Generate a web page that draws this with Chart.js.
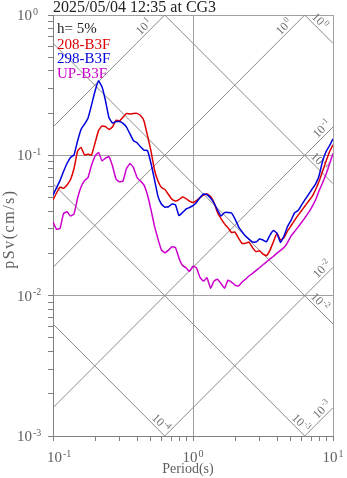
<!DOCTYPE html>
<html>
<head>
<meta charset="utf-8">
<script src="https://cdn.jsdelivr.net/npm/chart.js@4.4.1/dist/chart.umd.min.js"></script>
<style>
  html, body { margin: 0; padding: 0; background: #ffffff; }
  #wrap { width: 347px; height: 478px; }
</style>
</head>
<body>
<div id="wrap"><canvas id="spec" width="347" height="478"></canvas></div>
<script>
// Pseudo velocity response spectra, h = 5 %
const chartTitle = '2025/05/04 12:35 at CG3';
const dampingLabel = 'h= 5%';
const seriesNames = ['208-B3F', '298-B3F', 'UP-B3F'];

// natural periods (s)
const periods = [
  0.1, 0.1059, 0.1122, 0.1189, 0.1259, 0.1334, 0.1413, 0.1496, 0.1585, 0.1679,
  0.1778, 0.1884, 0.1995, 0.2113, 0.2239, 0.2371, 0.2512, 0.2661, 0.2818, 0.2985,
  0.3162, 0.335, 0.3548, 0.3758, 0.3981, 0.4217, 0.4467, 0.4732, 0.5012, 0.5309,
  0.5623, 0.5957, 0.631, 0.6683, 0.7079, 0.7499, 0.7943, 0.8414, 0.8913, 0.9441,
  1.0, 1.059, 1.122, 1.189, 1.259, 1.334, 1.413, 1.496, 1.585, 1.679,
  1.778, 1.884, 1.995, 2.113, 2.239, 2.371, 2.512, 2.661, 2.818, 2.985,
  3.162, 3.35, 3.548, 3.758, 3.981, 4.217, 4.467, 4.732, 5.012, 5.309,
  5.623, 5.957, 6.31, 6.683, 7.079, 7.499, 7.943, 8.414, 8.913, 9.441, 10
];

// pSv (cm/s)
const sv208 = [
  0.0480, 0.0539, 0.0594, 0.0582, 0.0614, 0.0672, 0.0805, 0.107, 0.114, 0.1005,
  0.102, 0.1005, 0.122, 0.150, 0.162, 0.160, 0.153, 0.159, 0.178, 0.176,
  0.187, 0.199, 0.197, 0.199, 0.199, 0.192, 0.176, 0.138, 0.107, 0.0786,
  0.0656, 0.0589, 0.0571, 0.0526, 0.0486, 0.0472, 0.0484, 0.0504, 0.0492, 0.0472,
  0.0461, 0.0476, 0.0500, 0.0521, 0.0530, 0.0510, 0.0461, 0.0391, 0.0354, 0.0325,
  0.0305, 0.0282, 0.0284, 0.0257, 0.0236, 0.0236, 0.0241, 0.0220, 0.0206, 0.0209,
  0.0198, 0.0193, 0.0211, 0.0243, 0.0278, 0.0249, 0.0258, 0.0289, 0.0315, 0.0344,
  0.0373, 0.0403, 0.0435, 0.0471, 0.0507, 0.0569, 0.0651, 0.0766, 0.0906, 0.106, 0.119
];
const sv298 = [
  0.0521, 0.0587, 0.0660, 0.0766, 0.0874, 0.0966, 0.1008, 0.126, 0.153, 0.167,
  0.184, 0.228, 0.286, 0.339, 0.308, 0.245, 0.185, 0.170, 0.174, 0.174,
  0.169, 0.159, 0.142, 0.127, 0.123, 0.115, 0.109, 0.108, 0.0876, 0.0671,
  0.0510, 0.0448, 0.0427, 0.0430, 0.0450, 0.0444, 0.0372, 0.0391, 0.0414, 0.0425,
  0.0438, 0.0462, 0.0499, 0.0530, 0.0526, 0.0496, 0.0457, 0.0407, 0.0369, 0.0391,
  0.0392, 0.0388, 0.0352, 0.0311, 0.0286, 0.0266, 0.0253, 0.0241, 0.0241, 0.0253,
  0.0249, 0.0242, 0.0270, 0.0291, 0.0278, 0.0239, 0.0266, 0.0311, 0.0344, 0.0388,
  0.0404, 0.0442, 0.0483, 0.0526, 0.0573, 0.0624, 0.0712, 0.0903, 0.106, 0.117, 0.131
];
const svUP = [
  0.0336, 0.0298, 0.0301, 0.0385, 0.0396, 0.0369, 0.0382, 0.0492, 0.0594, 0.0660,
  0.0695, 0.0849, 0.0985, 0.105, 0.0914, 0.0954, 0.0976, 0.0839, 0.0678, 0.0647,
  0.0656, 0.0805, 0.0874, 0.0818, 0.0695, 0.0656, 0.0614, 0.0521, 0.0409, 0.0313,
  0.0253, 0.0211, 0.0202, 0.0211, 0.0223, 0.0220, 0.0185, 0.0164, 0.0158, 0.0149,
  0.0162, 0.0158, 0.0135, 0.0127, 0.0134, 0.0113, 0.0127, 0.0131, 0.0122, 0.0113,
  0.0129, 0.0125, 0.0119, 0.0117, 0.0125, 0.0131, 0.0138, 0.0144, 0.0151, 0.0158,
  0.0166, 0.0174, 0.0183, 0.0191, 0.0201, 0.0210, 0.0220, 0.0239, 0.0266, 0.0286,
  0.0308, 0.0332, 0.0359, 0.0391, 0.0430, 0.0480, 0.0557, 0.0635, 0.0732, 0.0867, 0.103
];

// tripartite guide levels
const accelLevels = [1e-3, 1e-2, 1e-1, 1, 10];   // pSa (cm/s^2)
const dispLevels = [1e-4, 1e-3, 1e-2, 1e-1, 1];  // Sd (cm)

// decade tick labels
const xTickExps = [-1, 0, 1];
const yTickExps = [-3, -2, -1, 0];

const SERIF = "'Liberation Serif', 'Times New Roman', serif";
const TWO_PI = 2 * Math.PI;
const colors = ['#dd0000', '#0000dd', '#cc00cc'];

function isDecade(v) {
  const l = Math.log10(v);
  return Math.abs(l - Math.round(l)) < 1e-6;
}
function keepIntegerSignificands(axis) {
  axis.ticks = axis.ticks.filter(t => {
    const e = Math.floor(Math.log10(t.value) + 1e-9);
    const m = t.value / Math.pow(10, e);
    return Math.abs(m - Math.round(m)) < 1e-6;
  });
}

// "10" with a raised exponent
function powerParts(ctx, exp, baseFont, supFont) {
  ctx.font = baseFont;
  const wb = ctx.measureText('10').width;
  ctx.font = supFont;
  const ws = ctx.measureText(String(exp)).width;
  return { wb, ws, w: wb + ws + 1 };
}
function drawPower(ctx, exp, x, baseline, baseFont, supFont, rise) {
  const p = powerParts(ctx, exp, baseFont, supFont);
  ctx.font = baseFont;
  ctx.fillText('10', x, baseline);
  ctx.font = supFont;
  ctx.fillText(String(exp), x + p.wb + 1, baseline - rise);
  return p.w;
}

const tripartite = {
  id: 'tripartite',
  beforeDatasetsDraw(chart) {
    const { ctx, chartArea: a, scales: { x, y } } = chart;
    const T0 = x.min, T1 = x.max;
    ctx.save();
    ctx.beginPath();
    ctx.rect(a.left, a.top, a.right - a.left, a.bottom - a.top);
    ctx.clip();
    ctx.strokeStyle = '#8a8a8a';
    ctx.lineWidth = 1;
    const seg = (f) => {
      ctx.beginPath();
      ctx.moveTo(x.getPixelForValue(T0), y.getPixelForValue(f(T0)));
      ctx.lineTo(x.getPixelForValue(T1), y.getPixelForValue(f(T1)));
      ctx.stroke();
    };
    accelLevels.forEach(sa => seg(t => sa * t / TWO_PI));
    dispLevels.forEach(sd => seg(t => TWO_PI * sd / t));
    ctx.restore();

    // level labels near where each guide leaves the frame
    ctx.save();
    ctx.fillStyle = '#707070';
    const baseFont = '12px ' + SERIF, supFont = '8.5px ' + SERIF;
    const r = Math.SQRT1_2, perp = 6.8;
    const put = (exp, ex, ey, back, normal, along, angle) => {
      const cx = ex + along * back[0] + perp * normal[0];
      const cy = ey + along * back[1] + perp * normal[1];
      ctx.save();
      ctx.translate(cx, cy);
      ctx.rotate(angle);
      const p = powerParts(ctx, exp, baseFont, supFont);
      drawPower(ctx, exp, -p.w / 2, 4, baseFont, supFont, 4.5);
      ctx.restore();
    };
    accelLevels.forEach(sa => {
      let T = T1, sv = sa * T1 / TWO_PI, along = 9;
      if (sv > y.max) { sv = y.max; T = y.max * TWO_PI / sa; along = 23; }
      put(Math.round(Math.log10(sa)), x.getPixelForValue(T), y.getPixelForValue(sv),
          [-r, r], [-r, -r], along, -Math.PI / 4);
    });
    dispLevels.forEach(sd => {
      let T = T1, sv = TWO_PI * sd / T1, along = 25;
      if (sv < y.min) { sv = y.min; T = TWO_PI * sd / y.min; along = 12; }
      put(Math.round(Math.log10(sd)), x.getPixelForValue(T), y.getPixelForValue(sv),
          [-r, -r], [r, -r], along, Math.PI / 4);
    });
    ctx.restore();
  }
};

const annotations = {
  id: 'annotations',
  afterDraw(chart) {
    const { ctx, chartArea: a, scales: { x, y } } = chart;
    ctx.save();
    ctx.textBaseline = 'alphabetic';
    ctx.textAlign = 'left';

    // decade labels
    const baseFont = '15px ' + SERIF, supFont = '10px ' + SERIF;
    ctx.fillStyle = '#606060';
    yTickExps.forEach(e => {
      const py = y.getPixelForValue(Math.pow(10, e));
      drawPower(ctx, e, 17, py + 5, baseFont, supFont, 5.5);
    });
    xTickExps.forEach(e => {
      const px = x.getPixelForValue(Math.pow(10, e));
      const p = powerParts(ctx, e, baseFont, supFont);
      const left = Math.max(47, px - p.w / 2);
      drawPower(ctx, e, left, a.bottom + 26, baseFont, supFont, 5.5);
    });

    // axis titles
    ctx.font = '14px ' + SERIF;
    ctx.textAlign = 'center';
    ctx.fillText('Period(s)', 188, 473);
    ctx.save();
    ctx.translate(13.5, 229);
    ctx.rotate(-Math.PI / 2);
    ctx.font = '16px ' + SERIF;
    ctx.letterSpacing = '1.5px';
    ctx.fillText('pSv(cm/s)', 0, 0);
    ctx.restore();

    // title
    ctx.textAlign = 'left';
    ctx.fillStyle = '#222222';
    ctx.font = '16px ' + SERIF;
    ctx.fillText(chartTitle, 53, 11.5);

    // damping and component list
    ctx.font = '15px ' + SERIF;
    ctx.fillText(dampingLabel, 57, 33);
    chart.data.datasets.forEach((ds, i) => {
      ctx.fillStyle = ds.borderColor;
      ctx.fillText(ds.label, 57, 48.5 + i * 14.5);
    });
    ctx.restore();
  }
};

const asPoints = vals => periods.map((t, i) => ({ x: t, y: vals[i] }));

new Chart(document.getElementById('spec'), {
  type: 'line',
  data: {
    datasets: [
      { label: seriesNames[0], data: asPoints(sv208), borderColor: colors[0], order: 2 },
      { label: seriesNames[1], data: asPoints(sv298), borderColor: colors[1], order: 1 },
      { label: seriesNames[2], data: asPoints(svUP), borderColor: colors[2], order: 3 }
    ].map(d => Object.assign(d, { borderWidth: 1.5, pointRadius: 0, tension: 0.1, fill: false }))
  },
  options: {
    responsive: false,
    animation: false,
    devicePixelRatio: 1,
    layout: { padding: { top: 15, right: 14, left: 0, bottom: 0 } },
    plugins: { legend: { display: false }, title: { display: false }, tooltip: { enabled: false } },
    scales: {
      x: {
        type: 'logarithmic', min: 0.1, max: 10,
        ticks: { display: false },
        afterBuildTicks: keepIntegerSignificands,
        afterFit: s => { s.height = 42; },
        grid: {
          color: c => (c.tick && isDecade(c.tick.value)) ? '#a0a0a0' : 'rgba(0,0,0,0)',
          tickColor: '#808080', tickLength: 5, lineWidth: 1
        },
        border: { color: '#808080', width: 1 }
      },
      y: {
        type: 'logarithmic', min: 0.001, max: 1,
        ticks: { display: false },
        afterBuildTicks: keepIntegerSignificands,
        afterFit: s => { s.width = 53; },
        grid: {
          color: c => (c.tick && isDecade(c.tick.value)) ? '#a0a0a0' : 'rgba(0,0,0,0)',
          tickColor: '#808080', tickLength: 5, lineWidth: 1
        },
        border: { color: '#808080', width: 1 }
      }
    }
  },
  plugins: [tripartite, annotations]
});
</script>
</body>
</html>
